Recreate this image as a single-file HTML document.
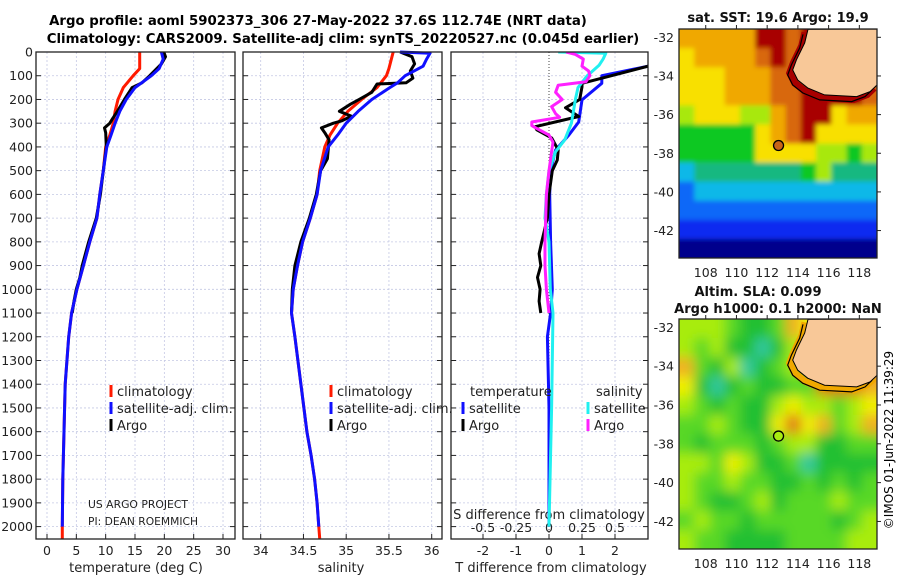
<!DOCTYPE html>
<html><head><meta charset="utf-8"><style>
html,body{margin:0;padding:0;background:#fff;}
svg{display:block;font-family:"DejaVu Sans","Liberation Sans",sans-serif;}
</style></head><body>
<svg id="fig" width="900" height="580" viewBox="0 0 900 580" xmlns="http://www.w3.org/2000/svg">
<defs>
<filter id="blurSla" x="-10%" y="-10%" width="120%" height="120%"><feGaussianBlur stdDeviation="6"/></filter>
<filter id="blurSst" x="-10%" y="-10%" width="120%" height="120%"><feGaussianBlur stdDeviation="2.5"/></filter>
<clipPath id="clipSst"><rect x="679" y="29" width="198" height="229"/></clipPath>
<clipPath id="clipSla"><rect x="679" y="319" width="198" height="230"/></clipPath>
</defs>
<text x="318" y="25" font-size="13.3" font-weight="bold" text-anchor="middle">Argo profile: aoml 5902373_306 27-May-2022 37.6S 112.74E (NRT data)</text>
<text x="343" y="43" font-size="13.3" font-weight="bold" text-anchor="middle">Climatology: CARS2009. Satellite-adj clim: synTS_20220527.nc (0.045d earlier)</text>
<g id="panels"></g>
<g id="maps"></g>
<text transform="translate(893,440) rotate(-90)" font-size="12" text-anchor="middle">©IMOS 01-Jun-2022 11:39:29</text>
</svg>
<script>
// ---------- data ----------
const depthTicks=[0,100,200,300,400,500,600,700,800,900,1000,1100,1200,1300,1400,1500,1600,1700,1800,1900,2000];
const tempTicks=[0,5,10,15,20,25,30];
const salTicks=[34,34.5,35,35.5,36];
const salTickLabels=["34","34.5","35","35.5","36"];
const tdTicks=[-2,-1,0,1,2];
const sdTicks=[-0.5,-0.25,0,0.25,0.5];
const sdTickLabels=["-0.5","-0.25","0","0.25","0.5"];

const tClimDepth=[0,70,100,150,200,250,300,350,400,500,600,700,800,900,1000,1100,1200,1400,1600,1800,2000,2050];
const tClimVal=[15.8,15.8,14.7,13,12.1,11.6,11.3,10.7,10,9.6,9.0,8.5,7.3,6.2,5.1,4.2,3.7,3.1,2.9,2.7,2.6,2.6];
const tSatDepth=[0,30,70,100,150,200,250,300,350,400,500,600,700,800,900,1000,1100,1200,1400,1600,1800,2000];
const tSatVal=[19.5,19.8,19.1,17.8,15,13.5,12.4,11.6,10.9,10.2,9.6,9.0,8.5,7.3,6.2,5.1,4.2,3.7,3.1,2.9,2.7,2.6];
const tArgoDepth=[0,20,50,100,130,150,200,250,280,300,320,340,400,500,600,700,800,900,950,1000,1050,1100];
const tArgoVal=[19.9,20.2,19.5,17.5,16.2,14.5,13.2,12.0,11.2,10.7,9.8,10.0,10.1,9.6,9.1,8.4,7.1,6.0,5.6,5.0,4.6,4.3];

const sClimDepth=[0,70,100,150,200,250,300,350,400,500,600,700,800,900,1000,1100,1200,1400,1600,1700,1800,1900,2000,2050];
const sClimVal=[35.55,35.5,35.47,35.36,35.18,35.02,34.9,34.81,34.75,34.69,34.66,34.58,34.49,34.43,34.38,34.36,34.40,34.47,34.54,34.59,34.63,34.66,34.68,34.69];
const sSatDepth=[0,5,30,60,100,130,150,200,250,300,350,400,500,600,700,800,900,1000,1100,1200,1400,1600,1700,1800,1900,2000];
const sSatVal=[35.63,35.98,35.94,35.9,35.69,35.6,35.51,35.3,35.14,35.0,34.9,34.79,34.7,34.66,34.58,34.49,34.43,34.38,34.36,34.40,34.47,34.54,34.59,34.63,34.66,34.68];
const sArgoDepth=[0,20,50,80,110,130,135,170,200,220,250,270,290,300,320,340,370,450,500,600,700,800,900,1000,1100];
const sArgoVal=[35.63,35.77,35.8,35.75,35.78,35.7,35.36,35.3,35.15,35.05,34.92,35.06,34.95,34.85,34.71,34.75,34.8,34.78,34.7,34.65,34.57,34.47,34.4,34.37,34.36];

const tdSatDepth=[0,60,100,132,202,295,350,413,500,600,800,1000,1100,1200,1500,2000];
const tdSatVal=[4,3,1.6,1.6,1.0,0.9,0.6,0.2,0.05,0.02,0.05,0.1,0.05,-0.05,0,0];
const tdArgoDepth=[0,60,132,147,200,235,272,315,328,362,413,455,500,600,700,800,850,900,950,1000,1050,1100];
const tdArgoVal=[4,3,1.0,1.0,0.93,0.5,0.9,-0.42,-0.37,0.08,0.28,0.25,0.1,0.0,-0.05,-0.22,-0.3,-0.25,-0.35,-0.27,-0.3,-0.25];
const sdSatDepth=[0,5,30,55,100,150,200,300,370,420,500,600,700,800,1000,1100,1500,2000];
const sdSatVal=[0.07,0.43,0.41,0.38,0.29,0.22,0.2,0.17,0.12,0.05,0,-0.02,-0.03,0,0.01,0.03,0.02,0];
const sdArgoDepth=[0,10,30,60,80,100,125,140,170,200,230,260,275,295,310,320,350,380,420,500,600,800,900,1000,1100];
const sdArgoVal=[0.13,0.2,0.26,0.25,0.3,0.31,0.28,0.07,0.05,0.1,0.02,0.05,0.08,-0.13,-0.13,-0.1,0,0.03,0.02,0,-0.02,-0.03,-0.03,-0.02,0.0];

const mapLonTicks=[108,110,112,114,116,118];
const mapLatTicks=[-32,-34,-36,-38,-40,-42];
const argoLon=112.74, argoLat=-37.6;
const coastLon=[114.66,114.44,113.9,113.66,113.99,114.64,115.74,117.83,118.7,119.15];
const coastLat=[-31.59,-32.29,-33.17,-33.69,-34.21,-34.62,-34.98,-35.07,-34.81,-34.47];
const sstGrid=[
[8,8,8,8,8,10,10,9,10,10,10,10,10],
[7,8,8,8,8,9,10,9,9,10,10,10,10],
[7,7,7,8,8,8,9,9,9,10,10,10,10],
[7,7,7,8,8,8,9,9,10,10,10,10,9],
[6,7,7,7,6,6,8,9,10,10,7,8,8],
[5,5,5,5,5,7,8,9,10,7,7,7,7],
[5,5,5,5,5,7,7,7,7,6,6,5,6],
[3,4,4,4,4,4,4,4,5,6,4,4,4],
[2,3,3,3,3,3,3,3,3,3,3,3,3],
[2,2,2,2,2,2,2,2,2,2,2,2,2],
[1,1,1,1,1,1,1,1,1,1,1,1,1],
[0,0,0,0,0,0,0,0,0,0,0,0,0]];
const slaGrid=[
[3,3,3,2,1,1,2,5,4,3,6,6,6],
[3,2,3,1,1,0,1,3,3,2,6,6,6],
[5,2,1,3,0,1,2,3,2,6,6,6,6],
[4,1,0,1,2,1,1,2,2,6,6,6,5],
[3,2,1,2,1,1,3,4,3,3,2,3,4],
[2,2,3,2,1,1,4,6,4,5,2,3,5],
[2,1,2,2,2,1,2,3,3,1,1,2,2],
[3,3,2,4,3,1,1,2,0,1,1,1,1],
[3,2,2,3,2,2,1,1,2,1,2,1,2],
[3,2,1,1,2,3,1,2,2,2,3,2,2],
[2,3,2,2,1,2,2,2,2,2,1,2,3],
[3,2,2,1,1,1,1,2,2,2,2,3,3]];
const sstColors=["#00008c","#0a2cf0","#0868f8","#10b8e8","#14b880","#10c820","#a8e810","#f8e000","#f0a800","#d86808","#a80000"];
const slaColors=["#30c8a0","#20c030","#58d828","#a8ec10","#f0f000","#f0b020","#e07018"];

// ---------- helpers ----------
const NS="http://www.w3.org/2000/svg";
const P=document.getElementById('panels');
const M=document.getElementById('maps');
function mk(tag,attrs,parent){const e=document.createElementNS(NS,tag);for(const k in attrs)e.setAttribute(k,attrs[k]);(parent||P).appendChild(e);return e;}
const TOP=52,BOT=539;
function yD(d){return TOP+d*0.2373;}
function xT(t){return 47+t*5.867;}
function xS(s){return 260.7+(s-34)*85.5;}
function xTD(t){return 549+t*33;}
function xSD(s){return 549+s*132;}
const panels=[{x0:36,x1:235,name:'temperature-panel'},{x0:243,x1:442,name:'salinity-panel'},{x0:451,x1:648,name:'difference-panel'}];

mk('clipPath',{id:'clip3'}).appendChild((()=>{const r=document.createElementNS(NS,'rect');r.setAttribute('x',451);r.setAttribute('y',TOP);r.setAttribute('width',197);r.setAttribute('height',BOT-TOP);return r;})());

function vgrid(xs,p){xs.forEach(x=>{const l=mk('line',{x1:x,x2:x,y1:TOP,y2:BOT,stroke:'#c4c8e4','stroke-width':0.8,'stroke-dasharray':'2,2'});

});}
panels.forEach((p,i)=>{
  const g=mk('rect',{x:p.x0,y:TOP,width:p.x1-p.x0,height:BOT-TOP,fill:'#fff'});
  
  
  depthTicks.forEach(d=>{const y=yD(d);
    const l=mk('line',{x1:p.x0,x2:p.x1,y1:y,y2:y,stroke:'#c4c8e4','stroke-width':0.8,'stroke-dasharray':'2,2'});
    
    
    const t1=mk('line',{x1:p.x0,x2:p.x0+5,y1:y,y2:y,stroke:'#222','stroke-width':1});
    
    
    const t2=mk('line',{x1:p.x1-5,x2:p.x1,y1:y,y2:y,stroke:'#222','stroke-width':1});
    
    
  });
});
vgrid(tempTicks.map(xT));vgrid(salTicks.map(xS));vgrid(tdTicks.filter(v=>v!==0).map(xTD));
const zl=mk('line',{x1:549,x2:549,y1:TOP,y2:BOT,stroke:'#444','stroke-width':1,'stroke-dasharray':'1,2'});



depthTicks.forEach(d=>{const t=mk('text',{x:33,y:yD(d)+4.5,'font-size':12.5,'text-anchor':'end',fill:'#222'});t.textContent=d;

});

function xlabels(vals,labels,fx,y,name){vals.forEach((v,i)=>{const t=mk('text',{x:fx(v),y:y,'font-size':12.5,'text-anchor':'middle',fill:'#222'});t.textContent=labels[i];


const tk=mk('line',{x1:fx(v),x2:fx(v),y1:BOT-5,y2:BOT,stroke:'#222'});

});}
xlabels(tempTicks,tempTicks.map(String),xT,555,'temperature-tick-label');
xlabels(salTicks,salTickLabels,xS,555,'salinity-tick-label');
xlabels(tdTicks,tdTicks.map(String),xTD,555,'t-difference-tick-label');
sdTicks.forEach((v,i)=>{const t=mk('text',{x:xSD(v),y:532,'font-size':12.5,'text-anchor':'middle',fill:'#222'});t.textContent=sdTickLabels[i];

});

function atitle(x,y,s,name){const t=mk('text',{x:x,y:y,'font-size':13,'text-anchor':'middle',fill:'#222'});t.textContent=s;

}
atitle(136,572,'temperature (deg C)','temperature-axis-title');
atitle(341,572,'salinity','salinity-axis-title');
atitle(551,572,'T difference from climatology','t-difference-axis-title');
atitle(549,519,'S difference from climatology','s-difference-axis-title');

function series(dep,val,fx,color,name,clip,w){
  const pts=dep.map((d,i)=>fx(val[i]).toFixed(1)+','+yD(d).toFixed(1)).join(' ');
  const a={points:pts,fill:'none',stroke:color,'stroke-width':w||3,'stroke-linejoin':'round'};
  if(clip)a['clip-path']='url(#clip3)';
  const l=mk('polyline',a);
  
  
}
series(tClimDepth,tClimVal,xT,'#ff1a00','temperature-climatology-line');
series(tArgoDepth,tArgoVal,xT,'#000','temperature-argo-line');
series(tSatDepth,tSatVal,xT,'#1010ff','temperature-satellite-line');
series(sClimDepth,sClimVal,xS,'#ff1a00','salinity-climatology-line');
series(sArgoDepth,sArgoVal,xS,'#000','salinity-argo-line');
series(sSatDepth,sSatVal,xS,'#1010ff','salinity-satellite-line');
series(tdSatDepth,tdSatVal,xTD,'#1010ff','t-diff-satellite-line',true);
series(tdArgoDepth,tdArgoVal,xTD,'#000','t-diff-argo-line',true);
series(sdSatDepth,sdSatVal,xSD,'#20f0f0','s-diff-satellite-line',true);
series(sdArgoDepth,sdArgoVal,xSD,'#ff20ff','s-diff-argo-line',true);

panels.forEach(p=>{const r=mk('rect',{x:p.x0,y:TOP,width:p.x1-p.x0,height:BOT-TOP,fill:'none',stroke:'#222','stroke-width':1.3});

});

function legend(x,y,color,label,name){
  const b=mk('rect',{x:x-1.5,y:y-7,width:3,height:12,fill:color});
  
  
  const t=mk('text',{x:x+6,y:y+4,'font-size':13,fill:'#222'});t.textContent=label;
  
  
}
legend(111,392,'#ff1a00','climatology','legend-climatology');
legend(111,409,'#1010ff','satellite-adj. clim.','legend-satellite-adj');
legend(111,426,'#000','Argo','legend-argo');
legend(331,392,'#ff1a00','climatology','legend-climatology-salinity');
legend(331,409,'#1010ff','satellite-adj. clim.','legend-satellite-adj-salinity');
legend(331,426,'#000','Argo','legend-argo-salinity');
legend(463,409,'#1010ff','satellite','legend-t-satellite');
legend(463,426,'#000','Argo','legend-t-argo');
legend(588,409,'#20f0f0','satellite','legend-s-satellite');
legend(588,426,'#ff20ff','Argo','legend-s-argo');
[['temperature',470,'legend-temperature-header'],['salinity',596,'legend-salinity-header']].forEach(a=>{const t=mk('text',{x:a[1],y:396,'font-size':13,fill:'#222'});t.textContent=a[0];

});
[['US ARGO PROJECT',508,'project-credit'],['PI: DEAN ROEMMICH',525,'pi-credit']].forEach(a=>{const t=mk('text',{x:88,y:a[1],'font-size':11,fill:'#222',textLength:a[0].length>15?110:100,lengthAdjust:'spacingAndGlyphs'});t.textContent=a[0];

});

// ---------- maps ----------
const LON0=106.26,LON1=119.15,LAT0=-31.57,LAT1=-43.42;
function makeMap(top,bot,grid,colors,name,titleLines,coastFill,filterId,clipId,dotFill){
  const X0=679,X1=877;
  const fx=lon=>X0+(lon-LON0)/(LON1-LON0)*(X1-X0);
  const fy=lat=>top+(LAT0-lat)/(LAT0-LAT1)*(bot-top);
  const g=mk('g',{},M);
  
  
  const cg=mk('g',{'clip-path':'url(#'+clipId+')'},g);
  const cells=mk('g',{filter:'url(#'+filterId+')'},cg);
  const nr=grid.length, nc=grid[0].length;
  const cw=(X1-X0)/nc, ch=(bot-top)/nr, PAD=20;
  grid.forEach((row,r)=>row.forEach((v,c)=>{
    let x=X0+c*cw, y=top+r*ch, w=cw+0.6, h=ch+0.6;
    if(c===0){x-=PAD;w+=PAD;} if(c===nc-1){w+=PAD;}
    if(r===0){y-=PAD;h+=PAD;} if(r===nr-1){h+=PAD;}
    const cell=mk('rect',{x:x.toFixed(2),y:y.toFixed(2),width:w.toFixed(2),height:h.toFixed(2),fill:colors[v]},cells);
    
    
  }));
  const pts=coastLon.map((lo,i)=>fx(lo).toFixed(1)+','+fy(coastLat[i]).toFixed(1));
  const band=mk('polyline',{points:coastLon.map((lo,i)=>(fx(lo)-3).toFixed(1)+','+(fy(coastLat[i])+3).toFixed(1)).join(' '),fill:'none',stroke:coastFill,'stroke-width':7},cg);
  
  
  const shelf=mk('polyline',{points:coastLon.map((lo,i)=>(fx(lo)-5).toFixed(1)+','+(fy(coastLat[i])+5).toFixed(1)).join(' '),fill:'none',stroke:'#000','stroke-width':1.2},cg);
  
  
  const land=mk('polygon',{points:pts.join(' ')+' '+X1+','+top,fill:'#f8c898',stroke:'#000','stroke-width':1},cg);
  
  
  const dot=mk('circle',{cx:fx(argoLon),cy:fy(argoLat),r:5,fill:dotFill,stroke:'#000','stroke-width':1.3},g);
  
  
  const fr=mk('rect',{x:X0,y:top,width:X1-X0,height:bot-top,fill:'none',stroke:'#222','stroke-width':1.3},g);
  
  
  mapLonTicks.forEach(lo=>{const t=mk('text',{x:fx(lo),y:bot+19,'font-size':12.5,'text-anchor':'middle',fill:'#222'},g);t.textContent=lo;
    
    
    mk('line',{x1:fx(lo),x2:fx(lo),y1:top,y2:top-4,stroke:'#222'},g);});
  mapLatTicks.forEach(la=>{const t=mk('text',{x:674,y:fy(la)+4.5,'font-size':12.5,'text-anchor':'end',fill:'#222'},g);t.textContent=la;
    
    
    mk('line',{x1:X1,x2:X1+4,y1:fy(la),y2:fy(la),stroke:'#222'},g);});
  titleLines.forEach(a=>{const t=mk('text',{x:a[1],y:a[2],'font-size':13,'font-weight':'bold','text-anchor':'middle',fill:'#111'},g);t.textContent=a[0];
    
    });
}
makeMap(29,258,sstGrid,sstColors,'sst-map',[['sat. SST: 19.6 Argo: 19.9',778,22,'sst-map-title']],'#a80000','blurSst','clipSst','#c86418');
makeMap(319,549,slaGrid,slaColors,'sla-map',[['Altim. SLA: 0.099',758,296,'sla-map-title'],['Argo h1000: 0.1 h2000: NaN',778,313,'sla-map-subtitle']],'#f0a800','blurSla','clipSla','#a8ec10');
</script>
</body></html>
